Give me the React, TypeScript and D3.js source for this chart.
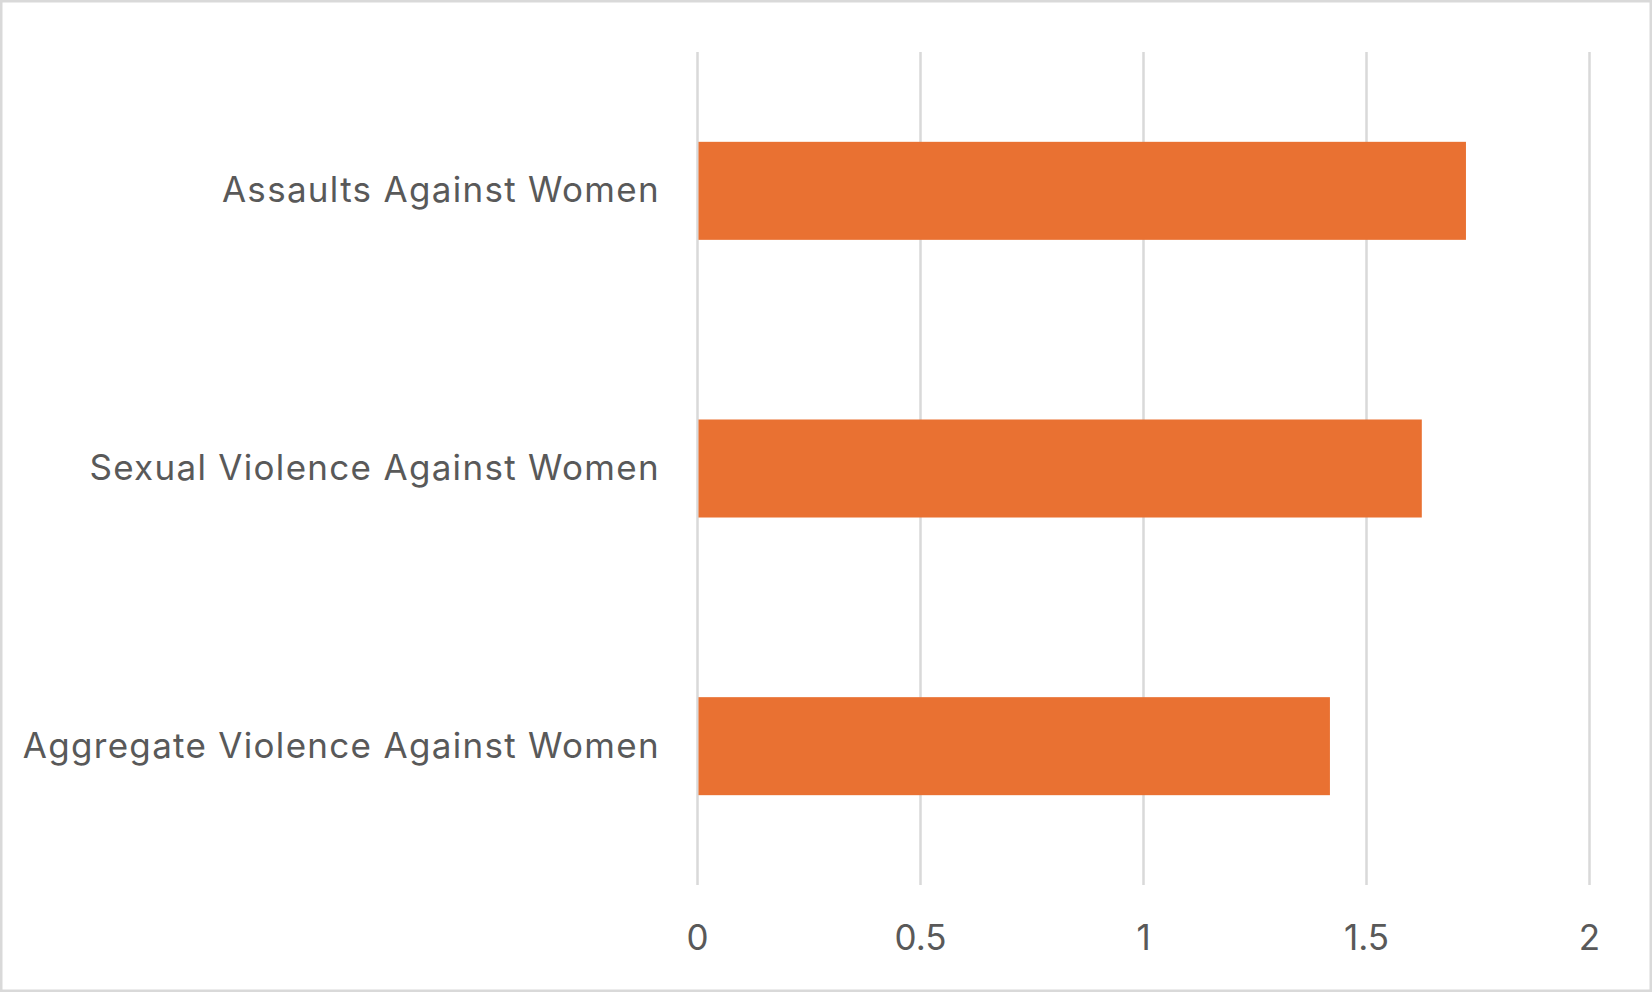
import React from "react";
import * as d3 from "d3";

const categories = ["Assaults Against Women", "Sexual Violence Against Women", "Aggregate Violence Against Women"];
const values = [1.723, 1.624, 1.418];
const xTicks = [0, 0.5, 1, 1.5, 2];
const xTickLabels = ["0", "0.5", "1", "1.5", "2"];

const W = 1652;
const H = 992;
const FONT = "Inter, 'Open Sans', sans-serif";

export default function App() {
  const x = d3.scaleLinear().domain([0, 2]).range([697.5, 1589.5]);
  const y = d3.scaleBand<string>().domain(categories).range([52, 885]).padding(0);
  const barH = y.bandwidth() * 0.353;

  return (
    <svg width={W} height={H} style={{ position: "absolute", left: 0, top: 0, background: "#fff" }}>
      <rect x={1.25} y={1.25} width={W - 2.5} height={H - 2.5} fill="#fff" stroke="#d9d9d9" strokeWidth={2.5} />
      {xTicks.map((t) => (
        <line key={"g" + t} x1={x(t)} x2={x(t)} y1={52} y2={885} stroke="#d9d9d9" strokeWidth={2.5} />
      ))}
      {categories.map((c, i) => (
        <rect
          key={c}
          x={x(0) + 1}
          y={(y(c) as number) + (y.bandwidth() - barH) / 2}
          width={x(values[i]) - x(0) - 1}
          height={barH}
          fill="#E97132"
        />
      ))}
      {categories.map((c) => (
        <text
          key={"l" + c}
          x={660}
          y={(y(c) as number) + y.bandwidth() / 2 - 1}
          dy="0.36em"
          textAnchor="end"
          fontFamily={FONT}
          fontSize={35}
          letterSpacing={1.3}
          fill="#595959"
        >
          {c}
        </text>
      ))}
      {xTicks.map((t, i) => (
        <text
          key={"t" + t}
          x={x(t)}
          y={950}
          textAnchor="middle"
          fontFamily={FONT}
          fontSize={35}
          fill="#595959"
        >
          {xTickLabels[i]}
        </text>
      ))}
    </svg>
  );
}
